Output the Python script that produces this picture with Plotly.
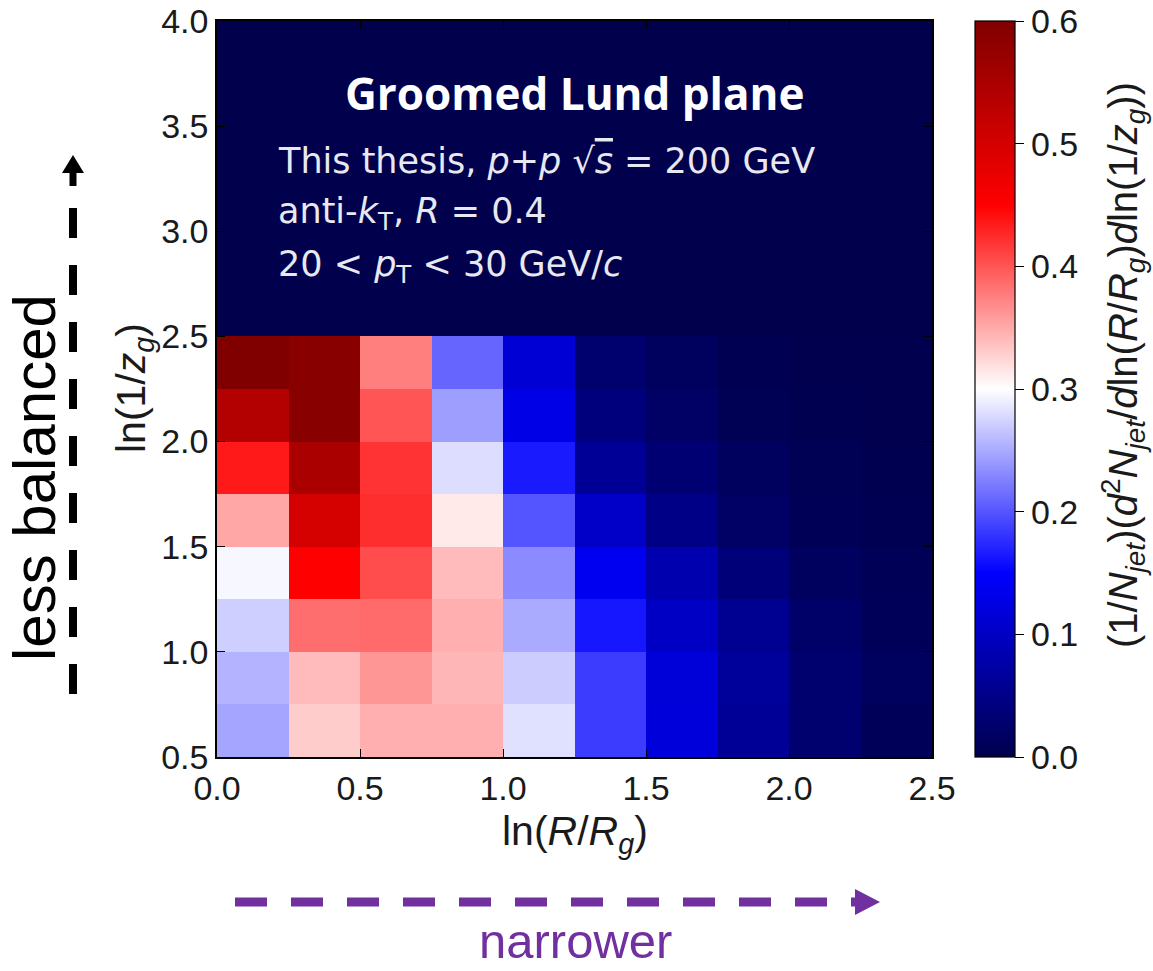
import plotly.graph_objects as go

# ---------------- data ----------------
x_centers = [0.125, 0.375, 0.625, 0.875, 1.125, 1.375, 1.625, 1.875, 2.125, 2.375]
y_centers = [0.625, 0.875, 1.125, 1.375, 1.625, 1.875, 2.125, 2.375,
             2.625, 2.875, 3.125, 3.375, 3.625, 3.875]

row_050_075 = [0.247, 0.330, 0.347, 0.347, 0.282, 0.185, 0.120, 0.062, 0.028, 0.010]
row_075_100 = [0.255, 0.340, 0.362, 0.343, 0.270, 0.185, 0.117, 0.066, 0.028, 0.015]
row_100_125 = [0.272, 0.385, 0.387, 0.347, 0.250, 0.163, 0.100, 0.057, 0.024, 0.010]
row_125_150 = [0.295, 0.450, 0.405, 0.340, 0.232, 0.137, 0.083, 0.036, 0.015, 0.008]
row_150_175 = [0.352, 0.500, 0.423, 0.313, 0.200, 0.104, 0.049, 0.020, 0.008, 0.004]
row_175_200 = [0.435, 0.550, 0.420, 0.280, 0.165, 0.062, 0.032, 0.015, 0.006, 0.003]
row_200_225 = [0.540, 0.590, 0.400, 0.243, 0.129, 0.040, 0.020, 0.007, 0.003, 0.002]
row_225_250 = [0.600, 0.590, 0.375, 0.210, 0.114, 0.028, 0.015, 0.005, 0.002, 0.001]
row_empty = [0.0] * 10

z = [row_050_075, row_075_100, row_100_125, row_125_150, row_150_175,
     row_175_200, row_200_225, row_225_250] + [row_empty] * 6

x_ticks = [0.0, 0.5, 1.0, 1.5, 2.0, 2.5]
y_ticks = [0.5, 1.0, 1.5, 2.0, 2.5, 3.0, 3.5, 4.0]
cbar_ticks = [0.0, 0.1, 0.2, 0.3, 0.4, 0.5, 0.6]

# ---------------- layout geometry (pixels) ----------------
W, H = 1153, 971
L, R, T, B = 217, 932, 21, 757


def px(x):
    return (x - L) / (R - L)


def py(y):
    return (B - y) / (B - T)


SANS = "Liberation Sans, Arial, sans-serif"

seismic = [[0.0, "rgb(0,0,77)"], [0.25, "rgb(0,0,255)"], [0.5, "rgb(255,255,255)"],
           [0.75, "rgb(255,0,0)"], [1.0, "rgb(128,0,0)"]]

fig = go.Figure(go.Heatmap(
    x=x_centers, y=y_centers, z=z,
    zmin=0.0, zmax=0.6, colorscale=seismic,
    colorbar=dict(
        x=px(975), xanchor="left", xpad=0, ypad=0,
        y=0.5, yanchor="middle", len=1.0, lenmode="fraction",
        thickness=40, thicknessmode="pixels",
        outlinewidth=1.2, outlinecolor="black",
        tickvals=cbar_ticks, ticktext=[f"{v:.1f}" for v in cbar_ticks],
        ticks="outside", ticklen=9, tickwidth=1.2, tickcolor="black",
        ticklabeloverflow="allow",
        tickfont=dict(family=SANS, size=34, color="#1a1a1a"),
    ),
    hoverinfo="skip",
))

axis_common = dict(
    ticks="inside", ticklen=8, tickwidth=1.2, tickcolor="black",
    showline=True, linecolor="black", linewidth=1.5, mirror="ticks",
    showgrid=False, zeroline=False, ticklabeloverflow="allow",
    tickfont=dict(family=SANS, size=34, color="#1a1a1a"),
)

fig.update_xaxes(range=[0, 2.5], tickvals=x_ticks,
                 ticktext=[f"{v:.1f}" for v in x_ticks], **axis_common)
fig.update_yaxes(range=[0.5, 4.0], tickvals=y_ticks,
                 ticktext=[f"{v:.1f}" for v in y_ticks], **axis_common)

ann_font = "DejaVu Sans, sans-serif"
txt_col = "#e8e8f0"
annotations = [
    dict(x=px(575), y=py(93), text="<b>Groomed Lund plane</b>",
         font=dict(family="Open Sans, sans-serif", size=44, color="white")),
    dict(x=px(276), y=py(161), xanchor="left",
         text="This thesis, <i>p</i>+<i>p</i> √<span style='text-decoration:overline'><i>s</i></span> = 200 GeV",
         font=dict(family=ann_font, size=35, color=txt_col)),
    dict(x=px(276), y=py(214), xanchor="left",
         text="anti-<i>k</i><sub>T</sub>, <i>R</i> = 0.4",
         font=dict(family=ann_font, size=35, color=txt_col)),
    dict(x=px(276), y=py(266), xanchor="left",
         text="20 &lt; <i>p</i><sub>T</sub> &lt; 30 GeV/<i>c</i>",
         font=dict(family=ann_font, size=35, color=txt_col)),
    # axis titles
    dict(x=px(575), y=py(834), text="ln(<i>R</i>/<i>R</i><sub><i>g</i></sub>)",
         font=dict(family=SANS, size=41, color="#1a1a1a")),
    dict(x=px(134), y=py(388), textangle=-90, text="ln(1/<i>z</i><sub><i>g</i></sub>)",
         font=dict(family=SANS, size=41, color="#1a1a1a")),
    # colorbar title
    dict(x=px(1123), y=py(365), textangle=-90,
         text="(1/<i>N</i><sub><i>jet</i></sub>)(<i>d</i><sup>2</sup><i>N</i><sub><i>jet</i></sub>/<i>d</i>ln(<i>R</i>/<i>R</i><sub><i>g</i></sub>)<i>d</i>ln(1/<i>z</i><sub><i>g</i></sub>))",
         font=dict(family=SANS, size=40, color="#1a1a1a")),
    # side labels
    dict(x=px(34), y=py(478), textangle=-90, text="less balanced",
         font=dict(family=SANS, size=60, color="black")),
    dict(x=px(575), y=py(941), text="narrower",
         font=dict(family=SANS, size=49, color="#7030A0")),
]
for a in annotations:
    a.setdefault("xref", "paper")
    a.setdefault("yref", "paper")
    a.setdefault("showarrow", False)
    a.setdefault("xanchor", "center")
    a.setdefault("yanchor", "middle")

shapes = [
    # black vertical dashed arrow
    dict(type="line", xref="paper", yref="paper", x0=px(73), x1=px(73), y0=py(694), y1=py(208),
         line=dict(color="black", width=8, dash="30px,27px")),
    dict(type="line", xref="paper", yref="paper", x0=px(73), x1=px(73), y0=py(186), y1=py(170),
         line=dict(color="black", width=7)),
    dict(type="path", xref="paper", yref="paper",
         path=f"M {px(62)},{py(173)} L {px(84)},{py(173)} L {px(73)},{py(155)} Z",
         fillcolor="black", line=dict(width=0)),
    # purple horizontal dashed arrow
    dict(type="line", xref="paper", yref="paper", x0=px(235), x1=px(827), y0=py(902), y1=py(902),
         line=dict(color="#7030A0", width=9, dash="32px,24px")),
    dict(type="line", xref="paper", yref="paper", x0=px(851), x1=px(858), y0=py(902), y1=py(902),
         line=dict(color="#7030A0", width=9)),
    dict(type="path", xref="paper", yref="paper",
         path=f"M {px(855)},{py(889)} L {px(855)},{py(915)} L {px(880)},{py(902)} Z",
         fillcolor="#7030A0", line=dict(width=0)),
]

fig.update_layout(
    width=W, height=H,
    margin=dict(l=L, r=W - R, t=T, b=H - B, autoexpand=False),
    paper_bgcolor="white", plot_bgcolor="rgb(0,0,77)",
    annotations=annotations, shapes=shapes,
    showlegend=False,
)

fig.write_html("out.html")
